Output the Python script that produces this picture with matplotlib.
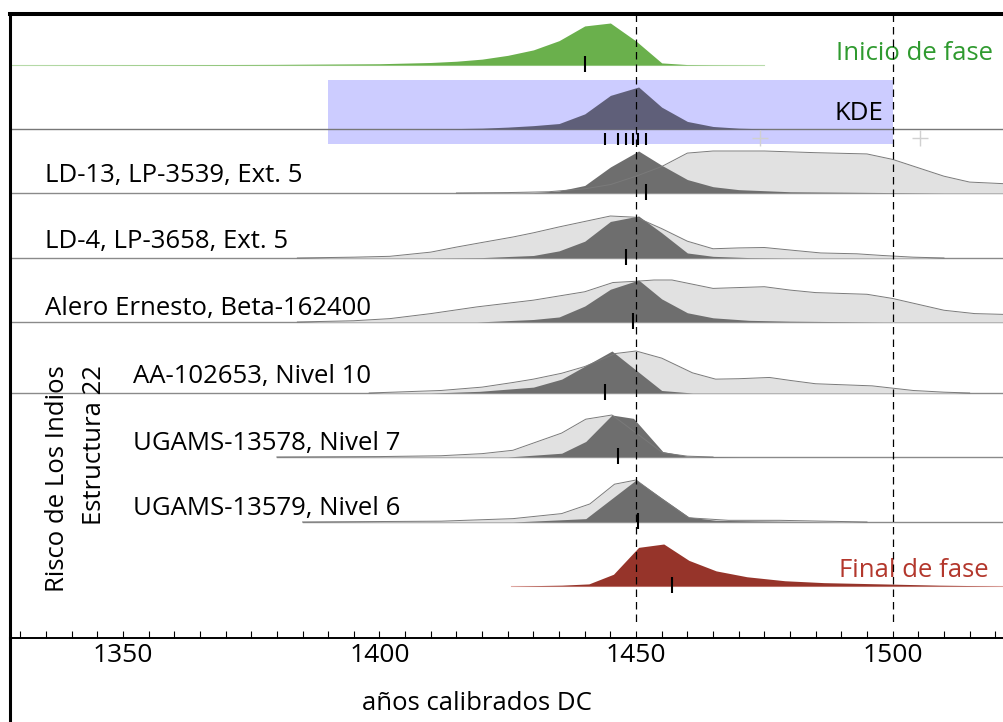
import matplotlib.pyplot as plt
from matplotlib.lines import Line2D
from matplotlib.ticker import MultipleLocator

plt.rcParams['font.family'] = ['Open Sans', 'DejaVu Sans']

# --- datos (años cal DC, altura relativa 0-1) ---
inicio_x = [1328, 1340, 1360, 1380, 1400, 1410, 1415, 1420, 1425, 1430, 1435, 1440, 1445, 1450, 1455, 1460, 1465, 1475]
inicio_y = [0, 0.003, 0.008, 0.015, 0.03, 0.06, 0.09, 0.14, 0.23, 0.36, 0.58, 0.93, 1.0, 0.57, 0.05, 0.01, 0.004, 0]
inicio_med = 1440.1

kde_x = [1405, 1410, 1415, 1420, 1425, 1430, 1435, 1440, 1445, 1450.5, 1455, 1460, 1465, 1470, 1476]
kde_y = [0, 0.005, 0.01, 0.02, 0.045, 0.08, 0.13, 0.36, 0.8, 1.0, 0.52, 0.18, 0.06, 0.02, 0]
kde_range = [1390, 1500]
kde_plus = [1474.2, 1505.4]

ld13_light_x = [1415, 1425, 1433, 1440, 1445, 1450, 1455, 1460, 1465, 1475, 1485, 1495, 1500, 1505, 1510, 1515, 1522]
ld13_light_y = [0, 0.01, 0.03, 0.1, 0.2, 0.4, 0.63, 0.95, 1.0, 1.0, 0.96, 0.93, 0.8, 0.6, 0.4, 0.26, 0.22]
ld13_dark_x = [1420, 1430, 1435, 1440, 1445, 1450.5, 1455, 1460, 1465, 1470, 1480, 1500, 1510]
ld13_dark_y = [0, 0.01, 0.05, 0.18, 0.62, 1.0, 0.66, 0.32, 0.15, 0.08, 0.03, 0.01, 0]

ld4_light_x = [1384, 1395, 1402, 1410, 1415, 1420, 1426, 1430, 1435, 1440, 1445, 1450, 1455, 1460, 1465,
               1470, 1475, 1480, 1486, 1493, 1498, 1504, 1510]
ld4_light_y = [0, 0.02, 0.04, 0.14, 0.26, 0.37, 0.5, 0.6, 0.74, 0.87, 1.0, 0.97, 0.7, 0.4, 0.22,
               0.24, 0.25, 0.19, 0.12, 0.1, 0.06, 0.02, 0]
ld4_dark_x = [1410, 1420, 1430, 1435, 1440, 1445, 1450.5, 1455, 1460, 1465, 1472, 1480]
ld4_dark_y = [0, 0.01, 0.06, 0.17, 0.4, 0.87, 1.0, 0.6, 0.12, 0.04, 0.01, 0]

alero_light_x = [1384, 1395, 1402, 1410, 1419, 1430, 1440, 1445.5, 1450, 1453.5, 1457, 1465, 1470, 1475,
                 1480, 1485, 1495, 1500, 1505, 1510, 1516, 1522]
alero_light_y = [0, 0.03, 0.08, 0.2, 0.36, 0.52, 0.72, 0.94, 0.97, 1.0, 1.0, 0.8, 0.82, 0.84,
                 0.76, 0.7, 0.66, 0.56, 0.42, 0.28, 0.2, 0.18]
alero_dark_x = [1419, 1430, 1435, 1440, 1445, 1450.5, 1455, 1460, 1465, 1472, 1480, 1498]
alero_dark_y = [0, 0.06, 0.12, 0.38, 0.78, 1.0, 0.55, 0.22, 0.1, 0.04, 0.02, 0]

aa_light_x = [1398, 1412, 1420, 1426, 1430, 1435.5, 1440, 1446, 1450, 1455, 1461, 1465.5, 1470, 1476,
              1480, 1485, 1496, 1504, 1510, 1515]
aa_light_y = [0, 0.06, 0.14, 0.25, 0.33, 0.47, 0.63, 0.94, 1.0, 0.83, 0.48, 0.33, 0.34, 0.37,
              0.3, 0.22, 0.17, 0.06, 0.02, 0]
aa_dark_x = [1410, 1419.5, 1430, 1435.5, 1445.3, 1455, 1461]
aa_dark_y = [0, 0.04, 0.14, 0.33, 1.0, 0.06, 0]

u78_light_x = [1380, 1400, 1412, 1420, 1426, 1435.5, 1440.2, 1445.3, 1455.2, 1460, 1465]
u78_light_y = [0, 0.01, 0.03, 0.08, 0.16, 0.57, 0.9, 1.0, 0.1, 0.02, 0]
u78_dark_x = [1425, 1435.5, 1440.2, 1445.3, 1449.5, 1455.2, 1460, 1470]
u78_dark_y = [0, 0.09, 0.37, 1.0, 0.92, 0.13, 0.02, 0]

u79_light_x = [1385, 1412, 1426, 1435.5, 1441, 1445.8, 1450, 1455, 1460.3, 1468, 1478, 1495]
u79_light_y = [0, 0.02, 0.08, 0.2, 0.43, 0.9, 1.0, 0.55, 0.1, 0.04, 0.04, 0]
u79_dark_x = [1426, 1440.2, 1450, 1460.3, 1465.5, 1478, 1492]
u79_dark_y = [0, 0.08, 1.0, 0.12, 0.04, 0.02, 0]

final_x = [1425.7, 1435.5, 1440.8, 1445.6, 1450.5, 1455.4, 1460.3, 1465.6, 1471.6, 1479, 1486.6, 1498, 1509, 1522]
final_y = [0, 0.02, 0.05, 0.28, 0.92, 1.0, 0.61, 0.36, 0.22, 0.125, 0.08, 0.05, 0.02, 0.0]
final_med = 1457.1

labels = ["LD-13, LP-3539, Ext. 5", "LD-4, LP-3658, Ext. 5", "Alero Ernesto, Beta-162400",
          "AA-102653, Nivel 10", "UGAMS-13578, Nivel 7", "UGAMS-13579, Nivel 6"]
medians = [1452.0, 1448.0, 1449.5, 1444.0, 1446.4, 1450.3]
light = [(ld13_light_x, ld13_light_y), (ld4_light_x, ld4_light_y), (alero_light_x, alero_light_y),
         (aa_light_x, aa_light_y), (u78_light_x, u78_light_y), (u79_light_x, u79_light_y)]
dark = [(ld13_dark_x, ld13_dark_y), (ld4_dark_x, ld4_dark_y), (alero_dark_x, alero_dark_y),
        (aa_dark_x, aa_dark_y), (u78_dark_x, u78_dark_y), (u79_dark_x, u79_dark_y)]
ref_years = [1450, 1500]

# --- disposicion (en pixeles desde arriba) ---
y_inicio, y_kde = 65, 129
row_y = [193, 258, 322, 393, 457, 522]
label_base = [182, 248, 315, 383, 450, 515]
y_final = 586
label_x = [1334.8, 1334.8, 1334.8, 1352.0, 1352.0, 1352.0]
full_line = [True, True, True, True, False, False]
amp = 42
xmin, xmax = 1328, 1521.7
fs = 18.5

fig = plt.figure(figsize=(10.04, 7.22), dpi=100)
ax = fig.add_axes([10 / 1004, 84.5 / 722, 994 / 1004, 623.5 / 722])
ax.set_xlim(xmin, xmax)
ax.set_ylim(637.5, 14)

# inicio de fase
ax.plot([inicio_x[0], inicio_x[-1]], [y_inicio, y_inicio], color='#b9dcac', lw=0.8, zorder=2)
ax.fill_between(inicio_x, y_inicio, [y_inicio - amp * v for v in inicio_y], color='#6ab04c', lw=0, zorder=3)
ax.vlines(inicio_med, y_inicio - 9, y_inicio + 7, color='black', lw=1.5, zorder=6)
ax.text(1519.6, 60, "Inicio de fase", color='#2f9a2f', fontsize=fs, ha='right', va='baseline')

# KDE
ax.fill_between(kde_range, 80, 144, color='#ccccff', lw=0, zorder=1)
ax.axhline(y_kde, color='#777777', lw=1, zorder=2)
ax.fill_between(kde_x, y_kde, [y_kde - amp * v for v in kde_y], color='#5f5f79', lw=0, zorder=3)
ax.vlines(medians, y_kde + 4, y_kde + 16, color='black', lw=1.5, zorder=6)
ax.plot(kde_plus, [y_kde + 9] * 2, ls='none', marker='+', ms=11, mew=1, color='#d0d0d0', zorder=2)
ax.text(1498.1, 120, "KDE", color='black', fontsize=fs, ha='right', va='baseline')

# muestras
for i in range(len(labels)):
    b = row_y[i]
    lx, ly = light[i]
    dx, dy = dark[i]
    start = xmin if full_line[i] else lx[0]
    ax.plot([start, xmax], [b, b], color='#8a8a8a', lw=1, zorder=2)
    ax.fill_between(lx, b, [b - amp * v for v in ly], color='#e1e1e1', lw=0, zorder=3)
    ax.fill_between(dx, b, [b - amp * v for v in dy], color='#6e6e6e', lw=0, zorder=4)
    ax.plot(lx, [b - amp * v for v in ly], color='#7a7a7a', lw=0.7, zorder=5)
    ax.vlines(medians[i], b - 9, b + 7, color='black', lw=1.5, zorder=6)
    ax.text(label_x[i], label_base[i], labels[i], fontsize=fs, ha='left', va='baseline')

ax.text(1337.3, 365, "Risco de Los Indios", fontsize=fs, rotation=90, rotation_mode='anchor',
        ha='right', va='center')
ax.text(1344.5, 365, "Estructura 22", fontsize=fs, rotation=90, rotation_mode='anchor',
        ha='right', va='center')

# final de fase
ax.plot([final_x[0], xmax], [y_final, y_final], color='#e0aaa4', lw=0.8, zorder=2)
ax.fill_between(final_x, y_final, [y_final - amp * v for v in final_y], color='#96342a', lw=0, zorder=3)
ax.vlines(final_med, y_final - 9, y_final + 7, color='black', lw=1.5, zorder=6)
ax.text(1518.7, 577, "Final de fase", color='#b3372c', fontsize=fs, ha='right', va='baseline')

# lineas de referencia
ax.vlines(ref_years, 14, 625, color='black', lw=0.9, linestyles=(0, (6, 4)), zorder=7)

# ejes
ax.set_yticks([])
ax.xaxis.set_major_locator(MultipleLocator(50))
ax.xaxis.set_minor_locator(MultipleLocator(5))
ax.tick_params(axis='x', which='both', direction='in', length=5, width=0.8, top=False, pad=4, labelsize=19)
ax.spines['right'].set_visible(False)
ax.spines['top'].set_linewidth(2.9)
ax.spines['left'].set_linewidth(2.2)
ax.spines['bottom'].set_linewidth(1.4)
ax.set_xlabel("años calibrados DC", fontsize=fs)
ax.xaxis.set_label_coords(0.47, (637.5 - 703) / 623.5)
ax.xaxis.label.set_va('center')
fig.add_artist(Line2D([10 / 1004, 10 / 1004], [0, 84.5 / 722], color='black', lw=2.2))

fig.savefig("out.png", dpi=100)
